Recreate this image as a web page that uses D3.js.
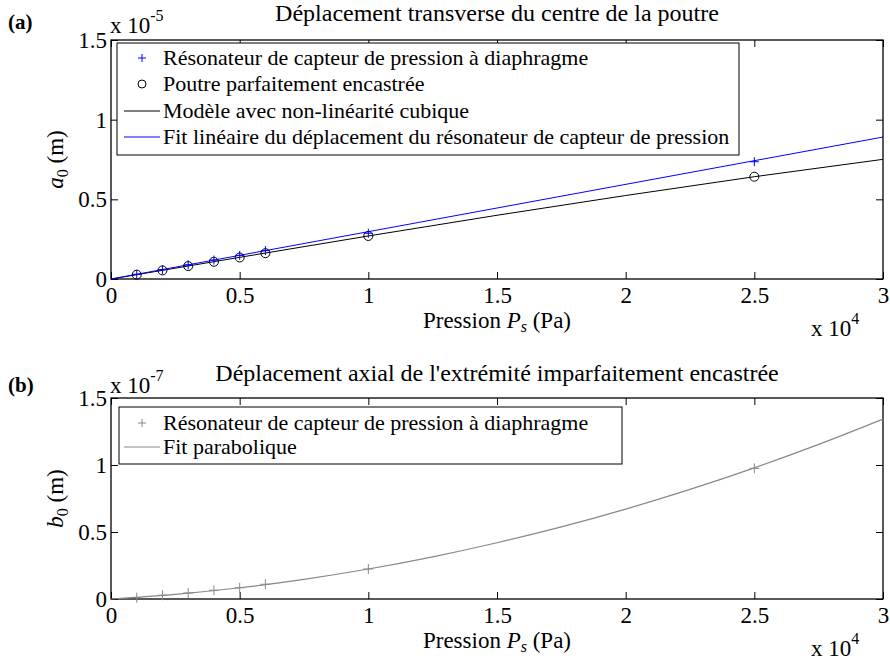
<!DOCTYPE html>
<html><head><meta charset="utf-8">
<script src="https://cdn.jsdelivr.net/npm/d3@7"></script>
<style>
html,body{margin:0;padding:0;background:#fff;}
</style></head>
<body>
<svg id="chart" width="890" height="663"></svg>
<script>
// ---- data ----
const xTicks = [0, 0.5, 1, 1.5, 2, 2.5, 3];          // pressure, x 10^4 Pa
const yTicks = [0, 0.5, 1, 1.5];
const pressure = [0.1, 0.2, 0.3, 0.4, 0.5, 0.6, 1.0, 2.5];  // x 10^4 Pa
// panel (a): a0 in 1e-5 m
const a0Resonator = [0.0297, 0.0594, 0.089, 0.119, 0.148, 0.178, 0.287, 0.736];
const a0Clamped   = [0.027, 0.054, 0.081, 0.108, 0.135, 0.162, 0.270, 0.642];
const modelP = [0, 0.5, 1.0, 1.5, 2.0, 2.5, 3.0];
const modelA = [0, 0.136, 0.270, 0.400, 0.524, 0.642, 0.751];
const fitLinP = [0, 3.0];
const fitLinA = [0, 0.891];
// panel (b): b0 in 1e-7 m
const b0Resonator = [0.010, 0.028, 0.045, 0.065, 0.084, 0.110, 0.224, 0.975];
const fitParP = [0, 0.25, 0.5, 0.75, 1.0, 1.25, 1.5, 1.75, 2.0, 2.25, 2.5, 2.75, 3.0];
const fitParB = [0, 0.035, 0.084, 0.147, 0.224, 0.315, 0.420, 0.538, 0.671, 0.818, 0.979, 1.154, 1.343];

const legendA = ["Résonateur de capteur de pression à diaphragme", "Poutre parfaitement encastrée",
  "Modèle avec non-linéarité cubique", "Fit linéaire du déplacement du résonateur de capteur de pression"];
const legendB = ["Résonateur de capteur de pression à diaphragme", "Fit parabolique"];

const FONT = "Liberation Serif";
const svg = d3.select("#chart").attr("font-family", FONT);
const FS = 23;

function panel(o) {
  const x = d3.scaleLinear().domain([0, 3]).range([111, 883]);
  const y = d3.scaleLinear().domain([0, 1.5]).range([o.bottom, o.top]);
  const g = svg.append("g").attr("font-family", FONT);
  // titles
  g.append("text").attr("x", 8).attr("y", o.tagY).attr("font-size", 21).attr("font-weight", "bold").text(o.tag);
  g.append("text").attr("x", 497).attr("y", o.titleY).attr("text-anchor", "middle").attr("font-size", 24).text(o.title);
  // exponent label y
  const ye = g.append("text").attr("x", 110).attr("y", o.expY).attr("font-size", FS);
  ye.append("tspan").text("x 10");
  ye.append("tspan").attr("dy", -12).attr("font-size", 16).text(o.yexp);
  // axes
  const tl = 7;
  const ax = d3.axisBottom(x).tickValues(xTicks).tickSize(-tl).tickFormat(d3.format(""));
  const axT = d3.axisTop(x).tickValues(xTicks).tickSize(-tl).tickFormat("");
  const ay = d3.axisLeft(y).tickValues(yTicks).tickSize(-tl).tickFormat(d3.format("")).tickPadding(4);
  const ayR = d3.axisRight(y).tickValues(yTicks).tickSize(-tl).tickFormat("");
  const style = sel => { sel.attr("font-family", FONT); sel.select(".domain").remove(); sel.selectAll("line").attr("stroke", "#000"); sel.selectAll("text").attr("font-size", FS).attr("fill", "#000"); };
  g.append("g").attr("transform", `translate(0,${o.bottom})`).call(ax).call(style).selectAll("text").attr("y", 24).attr("dy", 0);
  g.append("g").attr("transform", `translate(0,${o.top})`).call(axT).call(style);
  g.append("g").attr("transform", `translate(111,0)`).call(ay).call(style).selectAll("text").attr("dy", "0.33em");
  g.append("g").attr("transform", `translate(883,0)`).call(ayR).call(style);
  g.append("rect").attr("x", 111).attr("y", o.top).attr("width", 772).attr("height", o.bottom - o.top)
    .attr("fill", "none").attr("stroke", "#000").attr("stroke-width", 1.3);
  // x label
  const xl = g.append("text").attr("x", 497).attr("y", o.bottom + 49).attr("text-anchor", "middle").attr("font-size", FS);
  xl.append("tspan").text("Pression ");
  xl.append("tspan").attr("font-style", "italic").text("P");
  xl.append("tspan").attr("font-style", "italic").attr("font-size", 16).attr("dy", 4).text("s");
  xl.append("tspan").attr("dy", -4).text(" (Pa)");
  const xe = g.append("text").attr("x", 811).attr("y", o.bottom + 57).attr("font-size", FS);
  xe.append("tspan").text("x 10");
  xe.append("tspan").attr("dy", -12).attr("font-size", 16).text("4");
  // y label
  const yl = g.append("text").attr("transform", `translate(63,${(o.top + o.bottom) / 2}) rotate(-90)`)
    .attr("text-anchor", "middle").attr("font-size", FS);
  yl.append("tspan").attr("font-style", "italic").text(o.ysym);
  yl.append("tspan").attr("font-size", 16).attr("dy", 5).text("0");
  yl.append("tspan").attr("dy", -5).text(" (m)");
  return {g, x, y};
}

const line = (x, y) => d3.line().x(d => x(d[0])).y(d => y(d[1]));
const plus = (g, x, y, P, V, color, s) => {
  g.append("g").selectAll("path").data(d3.zip(P, V)).join("path")
    .attr("d", d => `M${x(d[0]) - s},${y(d[1])}h${2 * s}M${x(d[0])},${y(d[1]) - s}v${2 * s}`)
    .attr("stroke", color).attr("stroke-width", 1).attr("fill", "none");
};

// ---- panel (a) ----
const A = panel({tag: "(a)", title: "Déplacement transverse du centre de la poutre", top: 40, bottom: 279,
  yexp: "-5", ysym: "a", tagY: 29, titleY: 21, expY: 33});
A.g.append("path").datum(d3.zip(modelP, modelA)).attr("d", line(A.x, A.y)).attr("fill", "none").attr("stroke", "#000").attr("stroke-width", 1);
A.g.append("path").datum(d3.zip(fitLinP, fitLinA)).attr("d", line(A.x, A.y)).attr("fill", "none").attr("stroke", "#0000ff").attr("stroke-width", 1);
A.g.append("g").selectAll("circle").data(d3.zip(pressure, a0Clamped)).join("circle")
  .attr("cx", d => A.x(d[0])).attr("cy", d => A.y(d[1])).attr("r", 4.5).attr("fill", "none").attr("stroke", "#000").attr("stroke-width", 1);
plus(A.g, A.x, A.y, pressure, a0Resonator, "#0000ff", 4.5);
// legend (a)
{
  const lg = A.g.append("g");
  lg.append("rect").attr("x", 117).attr("y", 43).attr("width", 622).attr("height", 112).attr("fill", "#fff").attr("stroke", "#000").attr("stroke-width", 1);
  const rows = [58, 84, 111, 137];
  rows.forEach((ry, i) => {
    lg.append("text").attr("x", 163).attr("y", ry + 7).attr("font-size", 22).text(legendA[i]);
  });
  lg.append("path").attr("d", `M138,${rows[0]}h8M142,${rows[0] - 4}v8`).attr("stroke", "#0000ff");
  lg.append("circle").attr("cx", 142).attr("cy", rows[1]).attr("r", 4).attr("fill", "none").attr("stroke", "#000");
  lg.append("line").attr("x1", 124).attr("x2", 160).attr("y1", rows[2]).attr("y2", rows[2]).attr("stroke", "#000");
  lg.append("line").attr("x1", 124).attr("x2", 160).attr("y1", rows[3]).attr("y2", rows[3]).attr("stroke", "#0000ff");
}

// ---- panel (b) ----
const B = panel({tag: "(b)", title: "Déplacement axial de l'extrémité imparfaitement encastrée", top: 398, bottom: 599,
  yexp: "-7", ysym: "b", tagY: 392, titleY: 381, expY: 393});
B.g.append("path").datum(d3.zip(fitParP, fitParB)).attr("d", line(B.x, B.y).curve(d3.curveMonotoneX)).attr("fill", "none").attr("stroke", "#888").attr("stroke-width", 1.2);
plus(B.g, B.x, B.y, pressure, b0Resonator, "#888", 5);
{
  const lg = B.g.append("g");
  lg.append("rect").attr("x", 119).attr("y", 407).attr("width", 503).attr("height", 57).attr("fill", "#fff").attr("stroke", "#000").attr("stroke-width", 1);
  const rows = [423, 447];
  rows.forEach((ry, i) => lg.append("text").attr("x", 163).attr("y", ry + 7).attr("font-size", 22).text(legendB[i]));
  lg.append("path").attr("d", `M138,${rows[0]}h8M142,${rows[0] - 4}v8`).attr("stroke", "#888");
  lg.append("line").attr("x1", 124).attr("x2", 160).attr("y1", rows[1]).attr("y2", rows[1]).attr("stroke", "#888").attr("stroke-width", 1.2);
}
</script>
</body></html>
